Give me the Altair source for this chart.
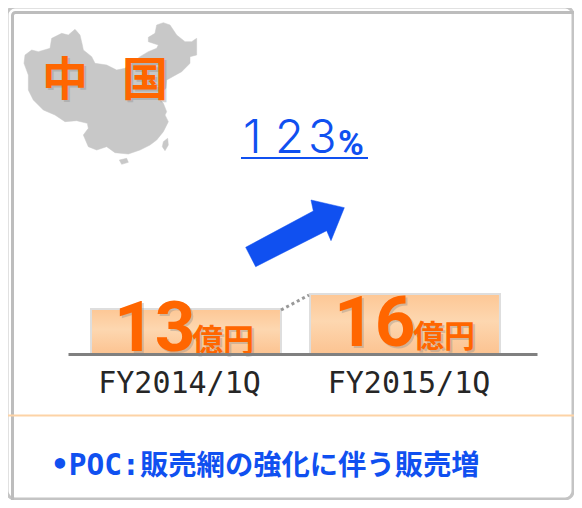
import altair as alt
import pandas as pd

FONT = "Noto Sans CJK JP"
MONO = "DejaVu Sans Mono"
NUM = "Roboto"
ORANGE = "#ff6600"
BLUE = "#1050f0"
SHADOW = "#888888"

periods = ["FY2014/1Q", "FY2015/1Q"]
sales = [13, 16]
unit = "億円"
growth_digits = ["1", "2", "3"]
growth_sign = "%"
region = ["中", "国"]
bullet_head = "•POC:"
bullet_body = "販売網の強化に伴う販売増"

# outline traces of the map and the arrow, in reference units (3 per pixel)
china_main = [(75,165),(95,150),(115,155),(150,145),(155,115),(185,100),(205,105),(225,88),(240,105),(247,135),
              (250,150),(275,170),(285,190),(320,195),(350,210),(375,205),(420,170),(445,155),(470,145),(475,135),
              (445,125),(445,112),(465,100),(470,75),(490,68),(510,75),(530,105),(555,125),(575,125),(590,115),
              (590,165),(570,170),(570,190),(545,215),(500,240),(498,265),(470,290),(490,310),(500,335),(495,345),
              (505,365),(490,395),(470,420),(450,435),(420,450),(385,462),(345,458),(320,440),(290,450),(265,440),
              (250,405),(265,385),(262,370),(230,362),(195,365),(165,345),(130,330),(100,300),(85,270),(85,225),(72,190)]
china_hainan = [(358,480),(380,475),(385,487),(365,493)]
china_taiwan = [(490,425),(503,415),(505,435),(495,452),(487,440)]
arrow_shape = [(737,742),(940,633),(933,600),(1033,623),(993,722),(980,692),(767,800)]


def feature(*rings):
    return {
        "type": "Feature",
        "properties": {},
        "geometry": {
            "type": "MultiPolygon",
            "coordinates": [[[list(p) for p in r] + [list(r[0])]] for r in rings],
        },
    }


def shape(rings, color):
    return (
        alt.Chart(alt.InlineData(values=[feature(*rings)], format=alt.DataFormat(type="json")))
        .mark_geoshape(fill=color, stroke=color, strokeWidth=0.5)
        .project(type="identity", scale=1 / 3, translate=[-8, -8])
    )


def px_rule(x, y, x2, y2, color, width, **kw):
    return (
        alt.Chart(pd.DataFrame({"a": [0]}))
        .mark_rule(color=color, strokeWidth=width, **kw)
        .encode(x=alt.value(x - 8), x2=alt.value(x2 - 8), y=alt.value(y - 8), y2=alt.value(y2 - 8))
    )


def px_text(s, x, y, size, color, font=FONT, weight="bold", align="left", baseline="alphabetic", **kw):
    return (
        alt.Chart(pd.DataFrame({"t": [s]}))
        .mark_text(x=x - 8, y=y - 8, fontSize=size, color=color, font=font, fontWeight=weight,
                   align=align, baseline=baseline, **kw)
        .encode(text="t:N")
    )


def shadowed(s, x, y, size, color, **kw):
    return [px_text(s, x + 2, y + 2, size, SHADOW, opacity=0.35, **kw), px_text(s, x, y, size, color, **kw)]


frame = []
# outer and inner bands of the frame
frame.append(
    alt.Chart(pd.DataFrame({"a": [0]}))
    .mark_rect(fill="white", stroke="#c4c4c4", strokeWidth=3, cornerRadius=8)
    .encode(x=alt.value(-1), x2=alt.value(565), y=alt.value(-1), y2=alt.value(491))
)
frame.append(
    alt.Chart(pd.DataFrame({"a": [0]}))
    .mark_rect(fillOpacity=0, stroke="#bdbdbd", strokeWidth=3, cornerRadius=3)
    .encode(x=alt.value(4.5), x2=alt.value(590), y=alt.value(4.5), y2=alt.value(520))
)
frame.append(px_rule(8, 415.5, 574, 415.5, "#fdd3a6", 2))

df = pd.DataFrame({"period": periods, "sales": sales})
x_scale = alt.Scale(domain=periods, range=[60, 529], paddingInner=0.1324, paddingOuter=0.137, align=0.383)
y_scale = alt.Scale(domain=[4, 73.2], nice=False, zero=False)

bars = (
    alt.Chart(df)
    .mark_bar(
        fill=alt.Gradient(
            gradient="linear", x1=0, x2=0, y1=0, y2=1,
            stops=[alt.GradientStop(color="#fdc795", offset=0),
                   alt.GradientStop(color="#fdd7b0", offset=0.45),
                   alt.GradientStop(color="#fcc391", offset=1)],
        ),
        stroke="#dedede",
        strokeWidth=2,
    )
    .encode(
        x=alt.X("period:N", scale=x_scale, sort=periods, title=None,
                axis=alt.Axis(domainColor="#808080", domainWidth=3, ticks=False, labelAngle=0,
                              labelFont=MONO, labelFontSize=30, labelColor="#262626",
                              labelPadding=38, labelOffset=alt.expr("datum.index == 0 ? -6.5 : 4"),
                              labelOverlap=False, labelBaseline="alphabetic", grid=False, zindex=1)),
        y=alt.Y("sales:Q", scale=y_scale, axis=None),
        y2=alt.Y2(datum=4),
    )
)

layers = list(frame)
layers.append(shape([china_main, china_hainan, china_taiwan], "#c8c8c8"))
layers.append(shape([arrow_shape], BLUE))
layers += [bars]
layers.append(px_rule(281, 310, 309, 295, "#999999", 3, strokeDash=[3, 3]))
layers += shadowed(str(sales[0]), 114, 351, 71, ORANGE, font=NUM)
layers += shadowed(str(sales[1]), 334, 346, 71, ORANGE, font=NUM)
layers += shadowed(unit, 192, 351, 31, ORANGE)
layers += shadowed(unit, 413, 347, 31, ORANGE)
layers += shadowed(region[0], 42, 95, 46, ORANGE, )
layers += shadowed(region[1], 122, 95, 46, ORANGE)
for d, x in zip(growth_digits, [243, 275, 308]):
    layers.append(px_text(d, x, 153, 47, BLUE, font="Inter", weight=300))
layers.append(px_text(growth_sign, 338, 155, 35, BLUE, font="Roboto", weight="bold"))
layers.append(px_rule(241, 158, 368, 158, BLUE, 2))
layers.append(px_text(bullet_head, 51, 475, 29.5, BLUE, font=MONO))
layers.append(px_text(bullet_body, 140, 475, 28.3, BLUE))

chart = (
    alt.layer(*layers)
    .resolve_scale(x="shared", y="shared")
    .properties(
        width=566, height=346,
        padding={"left": 0, "top": 0, "right": 0, "bottom": 146},
        autosize=alt.AutoSizeParams(type="none"),
        background="white",
    )
    .configure_view(stroke=None)
)
chart.save("out.html", embed_options={"renderer": "svg", "actions": False})
